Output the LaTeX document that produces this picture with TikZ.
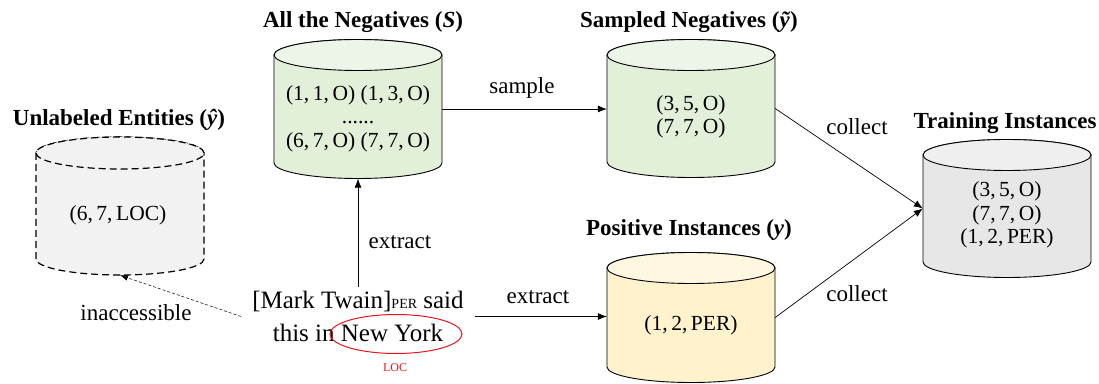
\documentclass[tikz,border=0pt]{standalone}
\usepackage{fontspec}
\setmainfont{Liberation Serif}
\usetikzlibrary{arrows.meta,shapes.geometric}
\definecolor{gbody}{HTML}{E2EFD9}
\definecolor{gtop}{HTML}{EDF5E8}
\definecolor{ybody}{HTML}{FFF2CC}
\definecolor{ytop}{HTML}{FFF7E0}
\definecolor{tbody}{HTML}{E7E7E7}
\definecolor{ttop}{HTML}{EFEFEF}
\definecolor{ubody}{HTML}{F2F2F2}
\definecolor{locred}{HTML}{E8141B}
% #1 name, #2 cx, #3 y of top centre, #4 y of bottom centre, #5 rx, #6 ry, #7 body fill, #8 top fill, #9 line style
\newcommand\drawcyl[9]{%
  \path[draw,#9,fill=#7] (#2-#5,#3) -- (#2-#5,#4)
    arc[start angle=180,end angle=360,x radius=#5pt,y radius=#6pt]
    -- (#2+#5,#3)
    arc[start angle=0,end angle=180,x radius=#5pt,y radius=#6pt] -- cycle;
  \path[draw,#9,fill=#8] (#2,#3) ellipse[x radius=#5pt,y radius=#6pt];
  \node[inner sep=0pt,minimum width=2*#5pt,minimum height=#3-#4+2*#6] (#1) at (#2,{(#3+#4)/2}) {};
}
\begin{document}
\begin{tikzpicture}[x=1pt,y=1pt,
  every node/.style={font=\fontsize{21.5}{23.5}\selectfont},
  ttl/.style={font=\fontsize{23}{25}\selectfont\bfseries},
  lbl/.style={font=\fontsize{23}{25}\selectfont},
  arr/.style={-{Latex[length=9pt,width=7pt]},line width=0.7pt},
  cylline/.style={line width=0.9pt},
]
\useasboundingbox (0,0) rectangle (1099,383);

\drawcyl{unl}{120}{230}{124}{84}{16}{ubody}{ubody}{line width=1.2pt,dash pattern=on 7pt off 4pt}
\drawcyl{neg}{358}{328}{220}{84}{15.5}{gbody}{gtop}{cylline}
\drawcyl{sam}{691}{328}{221}{84}{15.5}{gbody}{gtop}{cylline}
\drawcyl{pos}{691}{115}{16}{84}{15.5}{ybody}{ytop}{cylline}
\drawcyl{tr}{1007}{228}{121}{84}{15.5}{tbody}{ttop}{cylline}

% titles
\node[ttl] (tunl) at (119,263) {Unlabeled Entities (\textit{ŷ})};
\node[ttl] (tneg) at (363,361) {All the Negatives (\textit{S})};
\node[ttl] (tsam) at (689,361) {Sampled Negatives (\textit{ỹ})};
\node[ttl] (tpos) at (689,153) {Positive Instances (\textit{y})};
\node[ttl] (ttr) at (1005,260) {Training Instances};

% contents
\node[align=center] (xunl) at (118,168) {(6,\,7,\,LOC)};
\node[align=center] (xneg) at (358,264.5) {(1,\,1,\,O) (1,\,3,\,O)\\......\\(6,\,7,\,O) (7,\,7,\,O)};
\node[align=center] (xsam) at (691,266) {(3,\,5,\,O)\\(7,\,7,\,O)};
\node[align=center] (xtr) at (1007,168) {(3,\,5,\,O)\\(7,\,7,\,O)\\(1,\,2,\,PER)};
\node (xpos) at (691,58) {(1,\,2,\,PER)};

% sentence
\node[align=center,font=\fontsize{25}{33}\selectfont,inner xsep=11pt,inner ysep=4pt] (sent) at (358,66.5)
  {[Mark Twain]{\fontsize{14}{14}\selectfont PER} said\\this in New York};
\node[draw=locred,ellipse,line width=1pt,minimum width=132pt,minimum height=39pt,inner sep=0pt] (ny) at (396,49) {};
\node[text=locred,font=\fontsize{12}{12}\selectfont] (loc) at (395,15) {LOC};

% connectors
\draw[arr] (sent.north) -- (neg.south);
\node[lbl] (lext1) at (400,141) {extract};
\draw[arr] (sent.east) -- (sent.east -| pos.west);
\node[lbl] (lext2) at (538,86) {extract};
\draw[arr] (neg.east) -- (neg.east -| sam.west);
\node[lbl] (lsam) at (522,295) {sample};
\draw[-{Latex[length=8pt,width=6pt]},line width=0.5pt,dash pattern=on 3pt off 2pt] (sent.west) -- (unl.south);
\node[lbl] (linacc) at (136,70) {inaccessible};
\draw[arr] (sam.east) -- (tr.west);
\draw[arr] (pos.east) -- (tr.west);
\node[lbl] (lcol1) at (857,256) {collect};
\node[lbl] (lcol2) at (857,89) {collect};
\end{tikzpicture}
\end{document}
